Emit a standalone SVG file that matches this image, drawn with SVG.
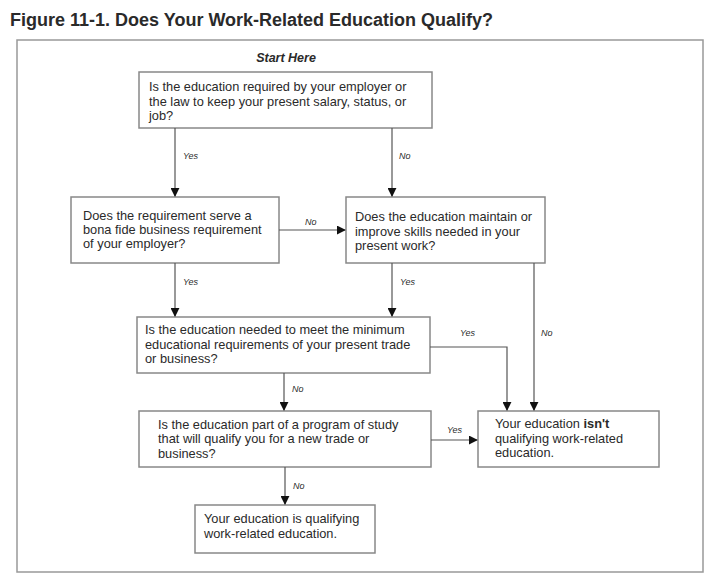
<svg xmlns="http://www.w3.org/2000/svg" width="720" height="582" viewBox="0 0 720 582">
<style>
text{font-family:"Liberation Sans",Arial,sans-serif;fill:#2a2a2a}
.t{font-size:12.8px}
.l{font-size:9px;font-style:italic}
.b{fill:#fff;stroke:#888;stroke-width:1.5}
.c{stroke:#555;stroke-width:1.2;fill:none}
</style>
<defs><marker id="a" viewBox="0 0 10 10" refX="9" refY="5" markerWidth="9" markerHeight="9" markerUnits="userSpaceOnUse" orient="auto"><path d="M0,0L10,5L0,10z" fill="#111"/></marker></defs>
<rect width="720" height="582" fill="#fff"/>
<text x="10" y="26" style="font-size:18px;font-weight:bold" fill="#111">Figure 11-1. Does Your Work-Related Education Qualify?</text>
<rect x="17" y="40" width="686" height="532" fill="none" stroke="#999" stroke-width="1.5"/>
<text x="286" y="62" text-anchor="middle" style="font-size:12.5px;font-weight:bold;font-style:italic">Start Here</text>
<g id="q1"><rect class="b" x="139" y="72" width="293" height="56"/><text class="t" x="149" y="91">Is the education required by your employer or</text><text class="t" x="149" y="106">the law to keep your present salary, status, or</text><text class="t" x="149" y="120">job?</text></g>
<g id="q2"><rect class="b" x="71" y="197" width="208" height="66"/><text class="t" x="83" y="220">Does the requirement serve a</text><text class="t" x="83" y="234">bona fide business requirement</text><text class="t" x="83" y="248">of your employer?</text></g>
<g id="q3"><rect class="b" x="346" y="197" width="199" height="66"/><text class="t" x="355" y="221">Does the education maintain or</text><text class="t" x="355" y="236">improve skills needed in your</text><text class="t" x="355" y="250">present work?</text></g>
<g id="q4"><rect class="b" x="137" y="317" width="293" height="56"/><text class="t" x="145" y="334">Is the education needed to meet the minimum</text><text class="t" x="145" y="349">educational requirements of your present trade</text><text class="t" x="145" y="363">or business?</text></g>
<g id="q5"><rect class="b" x="139" y="411" width="292" height="56"/><text class="t" x="158" y="429">Is the education part of a program of study</text><text class="t" x="158" y="443">that will qualify you for a new trade or</text><text class="t" x="158" y="458">business?</text></g>
<g id="notq"><rect class="b" x="478" y="411" width="181" height="56"/><text class="t" x="495" y="428">Your education <tspan font-weight="bold">isn't</tspan></text><text class="t" x="495" y="443">qualifying work-related</text><text class="t" x="495" y="457">education.</text></g>
<g id="yesq"><rect class="b" x="195" y="505" width="180" height="48"/><text class="t" x="204" y="523">Your education is qualifying</text><text class="t" x="204" y="538">work-related education.</text></g>
<g id="connectors">
<path class="c" d="M175,128V196" marker-end="url(#a)"/>
<path class="c" d="M392,128V196" marker-end="url(#a)"/>
<path class="c" d="M279,230H345" marker-end="url(#a)"/>
<path class="c" d="M175,263V316" marker-end="url(#a)"/>
<path class="c" d="M392,263V316" marker-end="url(#a)"/>
<path class="c" d="M534,263V410" marker-end="url(#a)"/>
<path class="c" d="M430,347H507V410" marker-end="url(#a)"/>
<path class="c" d="M284,373V410" marker-end="url(#a)"/>
<path class="c" d="M431,440H477" marker-end="url(#a)"/>
<path class="c" d="M285,467V504" marker-end="url(#a)"/>
<text class="l" x="183" y="159">Yes</text><text class="l" x="399" y="159">No</text>
<text class="l" x="305" y="225">No</text>
<text class="l" x="183" y="285">Yes</text><text class="l" x="400" y="285">Yes</text>
<text class="l" x="460" y="336">Yes</text><text class="l" x="541" y="336">No</text>
<text class="l" x="292" y="392">No</text>
<text class="l" x="447" y="433">Yes</text>
<text class="l" x="293" y="489">No</text>
</g>
</svg>
